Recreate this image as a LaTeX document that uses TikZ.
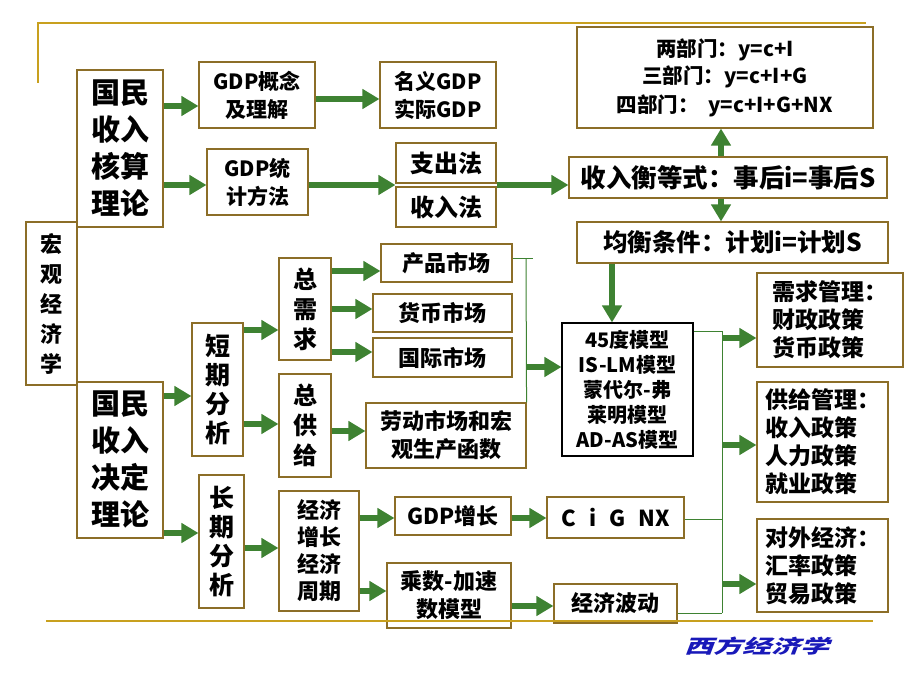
\documentclass[tikz,border=0pt]{standalone}
\usepackage{fontspec}
\usepackage{graphicx}
\usetikzlibrary{arrows.meta}
\newfontfamily\cjk{Noto Sans CJK SC}
\newfontfamily\footfont{Noto Sans CJK SC}[FakeSlant=0.25]
\definecolor{boxc}{RGB}{140,110,40}
\definecolor{goldc}{RGB}{200,160,30}
\definecolor{grn}{RGB}{62,130,50}
\definecolor{footc}{RGB}{25,25,185}
\newcommand\setfs[2]{\fontsize{#1}{#2}\selectfont}
\begin{document}
\begin{tikzpicture}[x=1pt,y=-1pt,
  box/.style={draw=boxc, line width=1.1pt, fill=white, inner sep=0pt, align=center},
  bbox/.style={draw=black, line width=1.1pt, fill=white, inner sep=0pt, align=center},
  fat/.style={draw=grn, line width=6pt, -{Triangle[length=17pt,width=19pt]}},
  thin/.style={draw=grn, line width=1pt},
  gold/.style={draw=goldc, line width=2pt}]
\useasboundingbox (0,0) rectangle (920,690);
\fill[white] (0,0) rectangle (920,690);

% left column
\node[box, minimum width=51, minimum height=163, font=\cjk\bfseries\setfs{22}{30}] (hg) at (51.5,303.5) {宏\\观\\经\\济\\学};
\node[box, minimum width=86, minimum height=157, font=\cjk\bfseries\setfs{29}{37}] (hs) at (120,148.5) {国民\\收入\\核算\\理论};
\node[box, minimum width=86, minimum height=156, font=\cjk\bfseries\setfs{29}{37}] (jd) at (120,460) {国民\\收入\\决定\\理论};

% upper part
\node[box, minimum width=116, minimum height=66, font=\cjk\bfseries\setfs{21}{28}] (g1) at (257,95) {GDP概念\\及理解};
\node[box, minimum width=101, minimum height=66, font=\cjk\bfseries\setfs{21}{28}] (g2) at (257.5,182) {GDP统\\计方法};
\node[box, minimum width=116, minimum height=66, font=\cjk\bfseries\setfs{21}{28}] (mn) at (438,95) {名义GDP\\实际GDP};
\node[box, minimum width=100, minimum height=40, font=\cjk\bfseries\setfs{24}{28}] (zc) at (446,163) {支出法};
\node[box, minimum width=100, minimum height=40, font=\cjk\bfseries\setfs{24}{28}] (sr) at (446,207) {收入法};
\node[box, minimum width=296, minimum height=101, font=\cjk\bfseries\setfs{20.5}{29}] (bm) at (725,77.5) {\raisebox{-2pt}{两部门：y=c+I}\\三部门：y=c+I+G\\四部门：\ \ y=c+I+G+NX};
\node[box, minimum width=318, minimum height=41, font=\cjk\bfseries\setfs{25.5}{28}] (sh) at (728,177.5) {收入衡等式：事后i=事后S};
\node[box, minimum width=311, minimum height=41, font=\cjk\bfseries\setfs{24.5}{28}] (jh) at (732.5,242.5) {均衡条件：计划i=计划S};

% short run
\node[box, minimum width=51, minimum height=133, font=\cjk\bfseries\setfs{25}{29}] (dq) at (217.5,389.5) {短\\期\\分\\析};
\node[box, minimum width=52, minimum height=102, font=\cjk\bfseries\setfs{24}{30}] (zx) at (305,309) {总\\需\\求};
\node[box, minimum width=52, minimum height=103, font=\cjk\bfseries\setfs{24}{30}] (zg) at (305,425.5) {总\\供\\给};
\node[box, minimum width=131, minimum height=38, font=\cjk\bfseries\setfs{22}{28}] (cp) at (446.5,263) {产品市场};
\node[box, minimum width=139, minimum height=38, font=\cjk\bfseries\setfs{22}{28}] (hb) at (442.5,313) {货币市场};
\node[box, minimum width=139, minimum height=39, font=\cjk\bfseries\setfs{22}{28}] (gj) at (442.5,357.5) {国际市场};
\node[box, minimum width=160, minimum height=65, font=\cjk\bfseries\setfs{22}{28}] (ld) at (446,435.5) {劳动市场和宏\\观生产函数};
\node[bbox, minimum width=131, minimum height=133, font=\cjk\bfseries\setfs{20}{25}] (m45) at (627.5,389.5) {45度模型\\IS-LM模型\\蒙代尔-弗\\莱明模型\\AD-AS模型};

% policy boxes
\node[box, minimum width=146, minimum height=94, align=left, font=\cjk\bfseries\setfs{23}{28}] (xq) at (830,320) {需求管理：\\财政政策\\货币政策};
\node[box, minimum width=131, minimum height=120, align=left, font=\cjk\bfseries\setfs{23}{28}] (gg) at (822.5,442) {供给管理：\\收入政策\\人力政策\\就业政策};
\node[box, minimum width=131, minimum height=93, align=left, font=\cjk\bfseries\setfs{23}{28}] (dw) at (822.5,565.5) {对外经济：\\汇率政策\\贸易政策};

% long run
\node[box, minimum width=45, minimum height=133, font=\cjk\bfseries\setfs{25}{29}] (cq) at (221.5,541.5) {长\\期\\分\\析};
\node[box, minimum width=80, minimum height=120, font=\cjk\bfseries\setfs{22}{27}] (jz) at (319,551) {经济\\增长\\经济\\周期};
\node[box, minimum width=116, minimum height=38, font=\cjk\bfseries\setfs{22}{28}] (gz) at (453,516) {GDP增长};
\node[box, minimum width=124, minimum height=65, font=\cjk\bfseries\setfs{22}{28}] (cs) at (449,595.5) {乘数-加速\\数模型};
\node[box, minimum width=137, minimum height=41, font=\cjk\bfseries\setfs{22}{28}] (cg) at (615.5,517.5) {C\hspace{0.6em}i\hspace{0.6em}G\hspace{0.6em}NX};
\node[box, minimum width=123, minimum height=39, font=\cjk\bfseries\setfs{22}{28}] (bd) at (615.5,603.5) {经济波动};

% thin connectors
\coordinate (v1) at (526,367);
\coordinate (v2top) at (722,331);
\draw[thin] ([yshift=5pt]cp.east) -- (533,258);
\draw[thin] (526,258) -- (ld.north east);
\draw[thin] (m45.east |- 0,331) -- (v2top) -- (722,613);
\draw[thin] (cg.east |- 0,519) -- (722,519);
\draw[thin] (bd.east |- 0,613) -- (722,613);

% fat arrows
\draw[fat] (hs.east |- 0,106) -- (g1.west |- 0,106);
\draw[fat] (hs.east |- 0,185) -- (g2.west |- 0,185);
\draw[fat] (g1.east |- 0,99) -- (mn.west |- 0,99);
\draw[fat] (g2.east |- 0,185) -- (sr.north west |- 0,185);
\draw[fat] (sr.north east |- 0,185) -- (sh.west |- 0,185);
\draw[fat] (sh.north -| 721,0) -- (bm.south -| 721,0);
\draw[fat] (sh.south -| 721,0) -- (jh.north -| 721,0);
\draw[fat] (jh.south -| 612,0) -- (m45.north -| 612,0);
\draw[fat] (jd.east |- 0,396) -- (dq.west |- 0,396);
\draw[fat] (dq.east |- 0,330) -- (zx.west |- 0,330);
\draw[fat] (dq.east |- 0,424) -- (zg.west |- 0,424);
\draw[fat] (zx.east |- 0,271) -- (cp.west |- 0,271);
\draw[fat] (zx.east |- 0,309) -- (hb.west |- 0,309);
\draw[fat] (zx.east |- 0,352) -- (gj.west |- 0,352);
\draw[fat] (zg.east |- 0,431) -- (ld.west |- 0,431);
\draw[fat] (v1) -- (m45.west |- v1);
\draw[fat] (jd.east |- 0,533) -- (cq.west |- 0,533);
\draw[fat] (cq.east |- 0,548) -- (jz.west |- 0,548);
\draw[fat] (jz.east |- 0,518) -- (gz.west |- 0,518);
\draw[fat] (jz.east |- 0,591) -- (cs.west |- 0,591);
\draw[fat] (gz.east |- 0,518) -- (cg.west |- 0,518);
\draw[fat] (cs.east |- 0,606) -- (bd.west |- 0,606);
\draw[fat] (722,338) -- (xq.west |- 0,338);
\draw[fat] (722,445) -- (gg.west |- 0,445);
\draw[fat] (722,584) -- (dw.west |- 0,584);

% gold frame lines
\draw[gold] (38,83) -- (38,23) -- (866,23);
\draw[gold] (46,621) -- (873,621);

% footer
\node[font=\footfont\bfseries\setfs{20}{20}, text=footc] (ft) at (757,646) {\scalebox{1.45}[0.95]{西方经济学}};
\end{tikzpicture}
\end{document}
